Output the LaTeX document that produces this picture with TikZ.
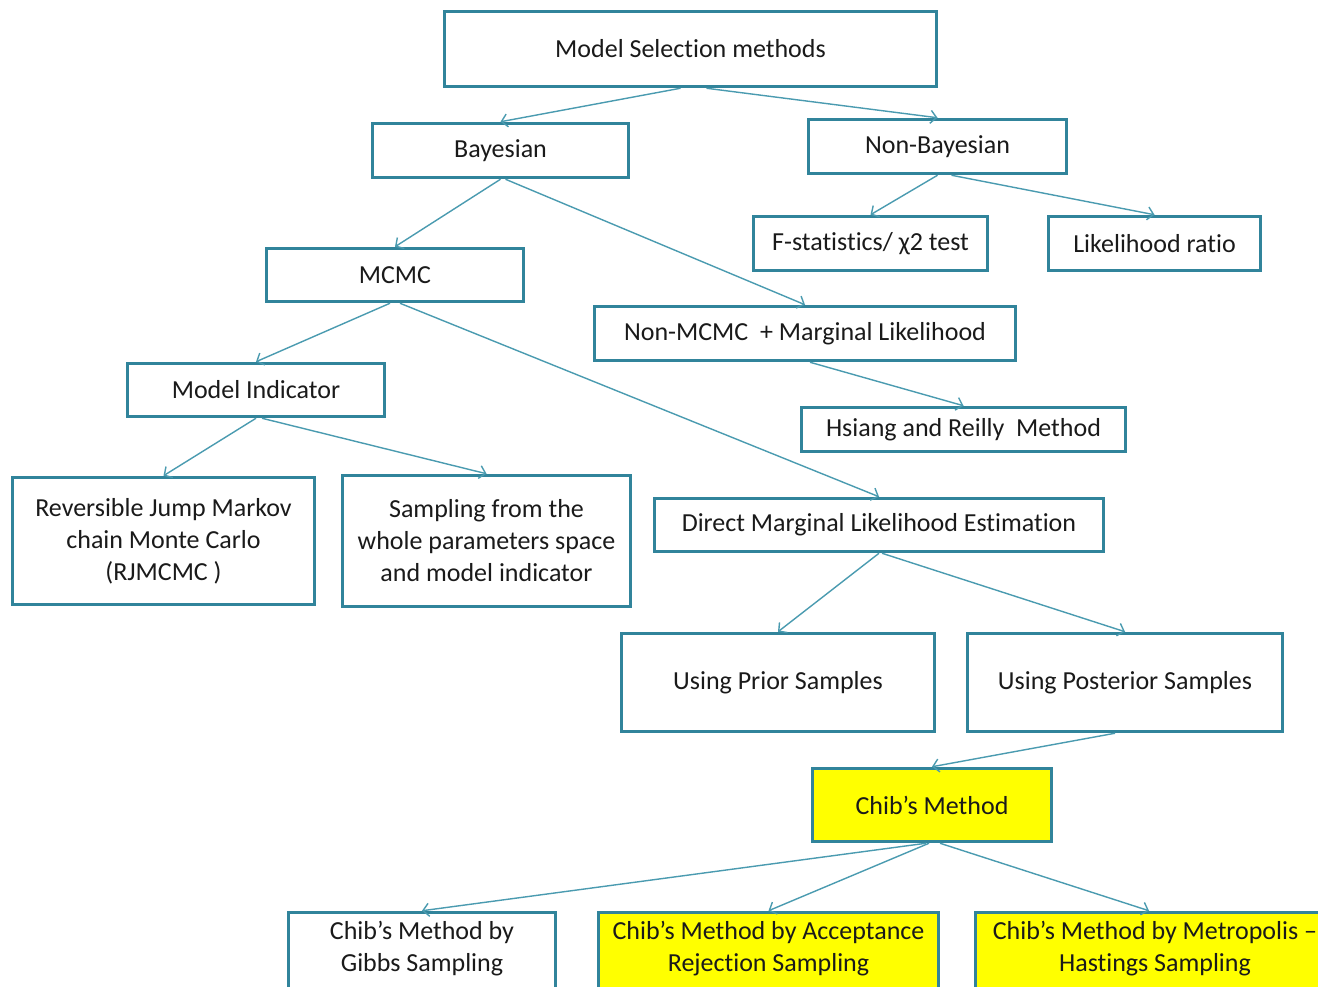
\documentclass[tikz,border=0pt]{standalone}
\usepackage{fontspec}
\setmainfont{Carlito}[Ligatures={NoCommon}]
\usetikzlibrary{arrows.meta}
\definecolor{boxline}{HTML}{31849B}
\definecolor{arrline}{HTML}{4A9BB0}
\definecolor{hilite}{HTML}{FFFF00}
\definecolor{ink}{HTML}{1A1A1A}
\tikzset{
  box/.style={draw=boxline, line width=3.5pt, fill=white, align=center,
    text=ink, inner sep=0pt, font=\fontsize{26}{32}\selectfont},
  hot/.style={box, fill=hilite},
  arr/.style={draw=arrline, line width=1.4pt,
    -{Straight Barb[length=6pt,width=13pt,line width=1.4pt]}}
}
\begin{document}
\begin{tikzpicture}[x=1pt,y=-1pt]
\useasboundingbox[fill=white] (0,0) rectangle (1318,987);

% top level
\node[box, minimum width=492, minimum height=75] (ms) at (690.5,49) {Model Selection methods};
\node[box, minimum width=256, minimum height=54] (bay) at (500.5,150.5) {Bayesian};
\node[box, minimum width=258, minimum height=54] (nonbay) at (937.5,146.5) {Non-Bayesian};

% non-Bayesian branch
\node[box, minimum width=234, minimum height=54] (fstat) at (870.5,243.5) {F-statistics/ χ2 test};
\node[box, minimum width=212, minimum height=54] (lr) at (1154.5,243.5) {Likelihood ratio};

% Bayesian branch
\node[box, minimum width=257, minimum height=53] (mcmc) at (395,275) {MCMC};
\node[box, minimum width=421, minimum height=54] (nonmcmc) at (805,333.5) {Non-MCMC\ \ + Marginal Likelihood};
\node[box, minimum width=257, minimum height=53] (mi) at (256,390) {Model Indicator};
\node[box, minimum width=324, minimum height=44] (hr) at (963.5,429.5) {Hsiang and Reilly\ \ Method};
\node[box, minimum width=302, minimum height=127] (rj) at (163.5,541) {Reversible Jump Markov\\chain Monte Carlo\\(RJMCMC )};
\node[box, minimum width=288, minimum height=131] (samp) at (486.5,541) {Sampling from the\\whole parameters space\\and model indicator};
\node[box, minimum width=449, minimum height=53] (dml) at (879,525) {Direct Marginal Likelihood Estimation};
\node[box, minimum width=313, minimum height=98] (prior) at (778,682.5) {Using Prior Samples};
\node[box, minimum width=315, minimum height=98] (post) at (1125,682.5) {Using Posterior Samples};

% Chib's method and its variants
\node[hot, minimum width=239, minimum height=73] (chib) at (932,805) {Chib’s Method};
\node[box, minimum width=267, minimum height=97,
  label={[yshift=12pt, align=center, text=ink, font=\fontsize{26}{32}\selectfont]center:Chib’s Method by\\Gibbs Sampling}]
  (gibbs) at (422,961) {};
\node[hot, minimum width=340, minimum height=97,
  label={[yshift=12pt, align=center, text=ink, font=\fontsize{26}{32}\selectfont]center:Chib’s Method by Acceptance\\Rejection Sampling}]
  (accept) at (768.5,961) {};
\node[hot, minimum width=359, minimum height=97,
  label={[yshift=12pt, align=center, text=ink, font=\fontsize{26}{32}\selectfont]center:Chib’s Method by Metropolis –\\Hastings Sampling}]
  (metro) at (1155,961) {};

% connectors
\draw[arr] ([xshift=-10pt]ms.south) -- (bay.north);
\draw[arr] ([xshift=16pt]ms.south) -- (nonbay.north);
\draw[arr] (nonbay.south) -- (fstat.north);
\draw[arr] ([xshift=14pt]nonbay.south) -- (lr.north);
\draw[arr] (bay.south) -- (mcmc.north);
\draw[arr] ([xshift=5pt]bay.south) -- (nonmcmc.north);
\draw[arr] ([xshift=-5pt]mcmc.south) -- (mi.north);
\draw[arr] ([xshift=5pt]mcmc.south) -- (dml.north);
\draw[arr] ([xshift=5pt]nonmcmc.south) -- (hr.north);
\draw[arr] (mi.south) -- (rj.north);
\draw[arr] ([xshift=6pt]mi.south) -- (samp.north);
\draw[arr] (dml.south) -- (prior.north);
\draw[arr] ([xshift=3pt]dml.south) -- (post.north);
\draw[arr] ([xshift=-10pt]post.south) -- (chib.north);
\draw[arr] ([xshift=-6pt]chib.south) -- (gibbs.north);
\draw[arr] ([xshift=-3pt]chib.south) -- (accept.north);
\draw[arr] ([xshift=8pt]chib.south) -- ([xshift=-6pt]metro.north);
\end{tikzpicture}
\end{document}
